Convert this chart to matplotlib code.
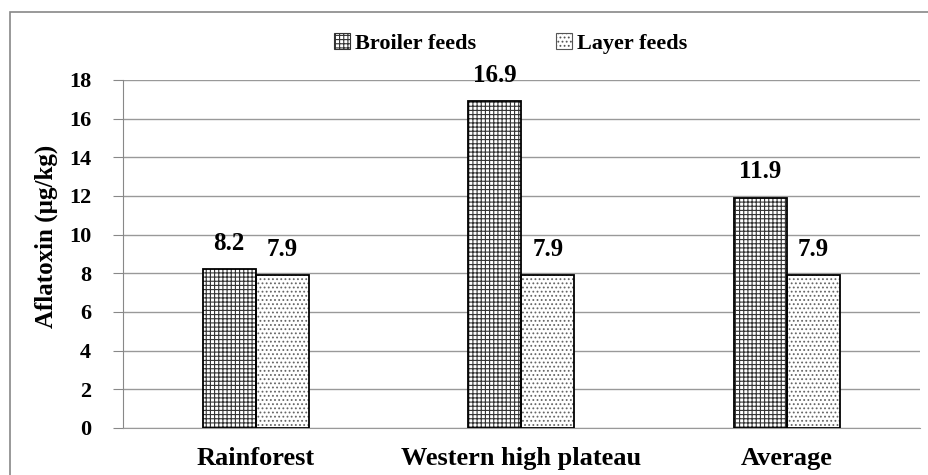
import numpy as np
import matplotlib
matplotlib.use("Agg")
import matplotlib.pyplot as plt
from matplotlib.patches import Rectangle, Patch

plt.rcParams['font.family'] = ['Liberation Serif', 'DejaVu Serif']
plt.rcParams['font.weight'] = 'bold'
plt.rcParams['hatch.linewidth'] = 0.8

# data
regions = ['Rainforest', 'Western high plateau', 'Average']
broiler = [8.2, 16.9, 11.9]
layer = [7.9, 7.9, 7.9]
series_names = ['Broiler feeds', 'Layer feeds']
yticks = [0, 2, 4, 6, 8, 10, 12, 14, 16, 18]

fig = plt.figure(figsize=(9.29, 4.75), dpi=100)
ax = fig.add_axes([0.1324, 0.099, 0.8576, 0.7326])

x = np.arange(len(regions))
w = 0.2

# hatch layer (gray) then black outline on top
ax.bar(x - w / 2, broiler, w, color='white', edgecolor='#333333', hatch='++++', linewidth=0, zorder=2)
ax.bar(x - w / 2, broiler, w, fill=False, edgecolor='black', linewidth=1.3, zorder=3)
ax.bar(x + w / 2, layer, w, color='white', edgecolor='#666666', hatch='....', linewidth=0, zorder=2)
ax.bar(x + w / 2, layer, w, fill=False, edgecolor='black', linewidth=1.3, zorder=3)

for i in range(len(regions)):
    ax.text(x[i] - w / 2, broiler[i] + 0.75, f'{broiler[i]:.1f}', ha='center', va='bottom',
            fontsize=18, fontweight='bold')
    ax.text(x[i] + w / 2, layer[i] + 0.75, f'{layer[i]:.1f}', ha='center', va='bottom',
            fontsize=18, fontweight='bold')

ax.set_xlim(-0.5, 2.5)
ax.set_ylim(0, 18)
ax.set_yticks(yticks)
ax.set_xticks(x)
ax.set_xticklabels(regions, fontsize=19, fontweight='bold')
ax.tick_params(axis='x', length=0, pad=14)
ax.tick_params(axis='y', length=7, color='#888888', labelsize=16, pad=16)
for lab in ax.get_yticklabels():
    lab.set_fontweight('bold')
ax.grid(axis='y', color='#999999', linewidth=1.0, zorder=0)
ax.set_axisbelow(True)
for s in ['top', 'right']:
    ax.spines[s].set_visible(False)
ax.spines['left'].set_color('#888888')
ax.spines['bottom'].set_color('#999999')
ax.set_ylabel('Aflatoxin (µg/kg)', fontsize=18, fontweight='bold')
ax.yaxis.set_label_coords(-0.082, 0.55)

handles = [Patch(facecolor='white', edgecolor='#333333', hatch='++++', linewidth=0.8),
           Patch(facecolor='white', edgecolor='#555555', hatch='....', linewidth=0.8)]
fig.legend(handles, series_names, loc='center', bbox_to_anchor=(0.55, 0.908), ncol=2,
           frameon=False, handlelength=0.7, handleheight=0.7,
           handletextpad=0.25, columnspacing=3.6, prop={'weight': 'bold', 'size': 16})

# outer border of the chart area
fig.patches.append(Rectangle((10 / 929, -0.1), 1.0, 1 - 12 / 475 + 0.1, transform=fig.transFigure,
                             fill=False, edgecolor='#888888', linewidth=1.2))

fig.savefig('out.png', dpi=100)
